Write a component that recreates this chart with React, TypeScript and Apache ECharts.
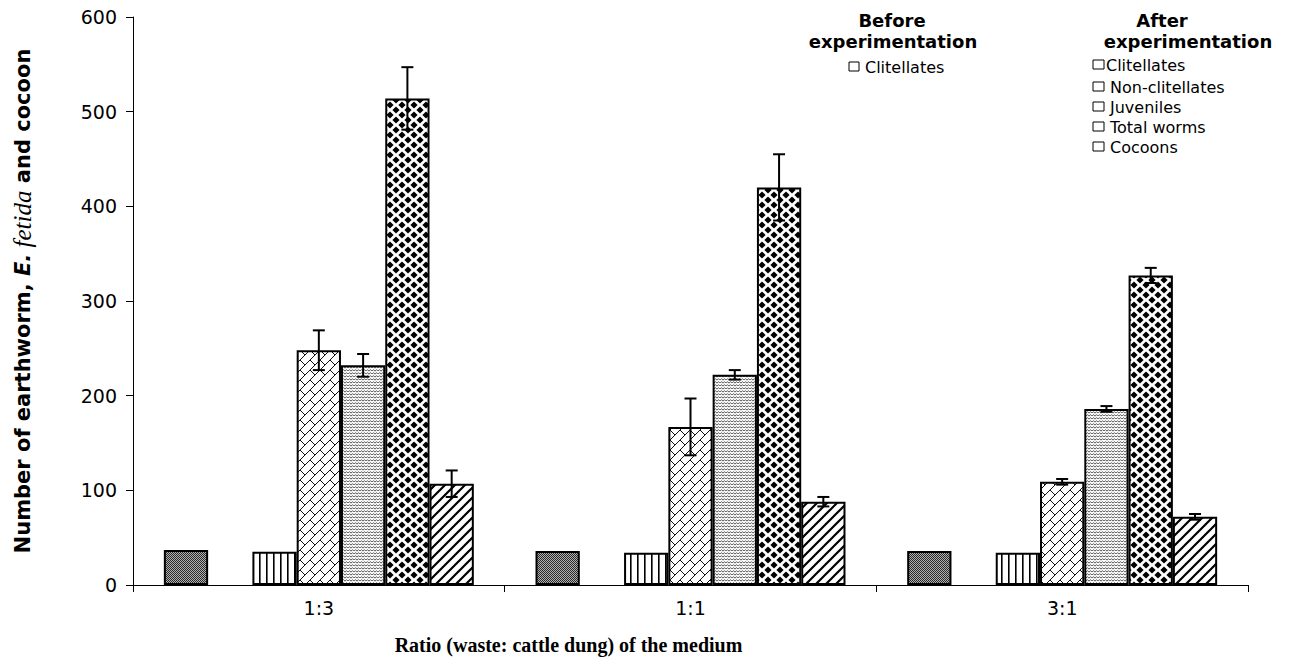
import React, { useEffect, useRef } from 'react';
import * as echarts from 'echarts';

// ---------- data ----------
const categories = ['1:3', '1:1', '3:1'];
const beforeClitellates = [37, 36, 36];
const afterClitellates = [35, 34, 34];
const nonClitellates = [248, 167, 109];
const nonClitellatesErr = [21, 30, 3];
const juveniles = [232, 222, 186];
const juvenilesErr = [12, 5, 3];
const totalWorms = [514, 420, 327];
const totalWormsErr = [33, 35, 8];
const cocoons = [107, 88, 72];
const cocoonsErr = [14, 5, 3];
const yMin = 0;
const yMax = 600;
const yStep = 100;

const afterNames = ['Clitellates', 'Non-clitellates', 'Juveniles', 'Total worms', 'Cocoons'];

const N_SLOTS = 7;
const GAP = 0.166;

type Ctx = CanvasRenderingContext2D;
function tile(w: number, h: number, draw: (c: Ctx) => void) {
  const cv = document.createElement('canvas');
  cv.width = w;
  cv.height = h;
  const ctx = cv.getContext('2d') as Ctx;
  ctx.fillStyle = '#ffffff';
  ctx.fillRect(0, 0, w, h);
  draw(ctx);
  return { image: cv, repeat: 'repeat', imageWidth: w, imageHeight: h } as any;
}

function makePatterns() {
  const gray = tile(4, 4, (c) => {
    for (let i = 0; i < 4; i++)
      for (let j = 0; j < 4; j++) {
        c.fillStyle = (i + j) % 2 === 0 ? '#2a2a2a' : '#b0b0b0';
        c.fillRect(i, j, 1, 1);
      }
  });
  const vlines = tile(7, 10, (c) => {
    c.fillStyle = '#000';
    c.fillRect(0, 0, 1.6, 10);
  });
  const brick = tile(20, 20, (c) => {
    c.strokeStyle = '#111';
    c.lineWidth = 1;
    c.beginPath();
    c.moveTo(-1, 11); c.lineTo(11, -1);
    c.moveTo(-1, 21); c.lineTo(21, -1);
    c.moveTo(9, 21); c.lineTo(21, 9);
    c.moveTo(0, 0); c.lineTo(5, 5);
    c.moveTo(10, 10); c.lineTo(15, 15);
    c.moveTo(10, 0); c.lineTo(15, 5);
    c.moveTo(0, 10); c.lineTo(5, 15);
    c.moveTo(20, 0); c.lineTo(21, 1);
    c.moveTo(20, 10); c.lineTo(21, 11);
    c.stroke();
  });
  const weave = tile(6, 6, (c) => {
    c.strokeStyle = '#555';
    c.lineWidth = 1;
    c.beginPath();
    c.moveTo(0, 2.2); c.lineTo(1.5, 0.6); c.lineTo(3, 2.2); c.lineTo(4.5, 0.6); c.lineTo(6, 2.2);
    c.moveTo(0, 5.2); c.lineTo(1.5, 3.6); c.lineTo(3, 5.2); c.lineTo(4.5, 3.6); c.lineTo(6, 5.2);
    c.stroke();
  });
  const diamonds = tile(12, 10, (c) => {
    c.fillStyle = '#000';
    const d = (x: number, y: number) => {
      c.beginPath();
      c.moveTo(x, y - 3.6); c.lineTo(x + 3.6, y); c.lineTo(x, y + 3.6); c.lineTo(x - 3.6, y);
      c.closePath();
      c.fill();
    };
    d(6, 5); d(0, 0); d(12, 0); d(0, 10); d(12, 10);
  });
  const diag = tile(10, 10, (c) => {
    c.strokeStyle = '#000';
    c.lineWidth = 2.2;
    c.beginPath();
    c.moveTo(-1, 11); c.lineTo(11, -1);
    c.moveTo(-1, 1); c.lineTo(1, -1);
    c.moveTo(9, 11); c.lineTo(11, 9);
    c.stroke();
  });
  return { gray, vlines, brick, weave, diamonds, diag };
}

export default function App() {
  const ref = useRef<HTMLDivElement>(null);
  useEffect(() => {
    document.body.style.margin = '0';
    if (!ref.current) return;
    const chart = echarts.init(ref.current, undefined, { renderer: 'svg' });
    const p = makePatterns();

    const barBase = {
      type: 'bar' as const,
      barGap: '0%',
      barCategoryGap: (GAP * 100).toFixed(1) + '%',
      emphasis: { disabled: true },
      itemStyle: { borderColor: '#000', borderWidth: 2 },
    };

    const errSets = [
      { vals: nonClitellates, errs: nonClitellatesErr, slot: 3 },
      { vals: juveniles, errs: juvenilesErr, slot: 4 },
      { vals: totalWorms, errs: totalWormsErr, slot: 5 },
      { vals: cocoons, errs: cocoonsErr, slot: 6 },
    ];
    const errData: number[][] = [];
    errSets.forEach((s) => s.vals.forEach((v, i) => errData.push([i, v, s.errs[i], s.slot])));

    const legendFont = 'bold 18px "DejaVu Sans", sans-serif';
    const itemFont = '16px "DejaVu Sans", sans-serif';
    const graphic: any[] = [
      { type: 'text', x: 892, y: 20, style: { text: 'Before', font: legendFont, fill: '#000', align: 'center', verticalAlign: 'middle' } },
      { type: 'text', x: 893, y: 41, style: { text: 'experimentation', font: legendFont, fill: '#000', align: 'center', verticalAlign: 'middle' } },
      { type: 'rect', shape: { x: 849, y: 62, width: 10, height: 9 }, style: { fill: '#fff', stroke: '#000', lineWidth: 1 } },
      { type: 'text', x: 865, y: 67, style: { text: 'Clitellates', font: itemFont, fill: '#000', align: 'left', verticalAlign: 'middle' } },
      { type: 'text', x: 1162, y: 20, style: { text: 'After', font: legendFont, fill: '#000', align: 'center', verticalAlign: 'middle' } },
      { type: 'text', x: 1188, y: 41, style: { text: 'experimentation', font: legendFont, fill: '#000', align: 'center', verticalAlign: 'middle' } },
    ];
    const rowsY = [65, 87, 107, 127, 147];
    afterNames.forEach((nm, i) => {
      graphic.push({ type: 'rect', shape: { x: 1093, y: rowsY[i] - 5, width: 11, height: 9 }, style: { fill: '#fff', stroke: '#000', lineWidth: 1 } });
      graphic.push({ type: 'text', x: 1106 + (i === 0 ? 0 : 4), y: rowsY[i], style: { text: nm, font: itemFont, fill: '#000', align: 'left', verticalAlign: 'middle' } });
    });

    const tickFont = '"DejaVu Sans", sans-serif';

    chart.setOption({
      animation: false,
      grid: { left: 133, right: 47, top: 17, bottom: 79, containLabel: false },
      xAxis: {
        type: 'category',
        data: categories,
        axisLine: { lineStyle: { color: '#000', width: 1 } },
        axisTick: { show: true, length: 7, lineStyle: { color: '#000' } },
        axisLabel: { color: '#000', fontSize: 19, fontFamily: tickFont, margin: 13 },
        name: 'Ratio (waste: cattle dung) of the medium',
        nameLocation: 'middle',
        nameGap: 50,
        nameTextStyle: {
          color: '#000',
          fontFamily: '"Liberation Serif", "Times New Roman", serif',
          fontWeight: 'bold',
          fontSize: 20,
          padding: [0, 244, 0, 0],
        },
      },
      yAxis: {
        type: 'value',
        min: yMin,
        max: yMax,
        interval: yStep,
        splitLine: { show: false },
        axisLine: { show: true, lineStyle: { color: '#000', width: 1 } },
        axisTick: { show: true, length: 7, inside: false, lineStyle: { color: '#000' } },
        axisLabel: { color: '#000', fontSize: 19, fontFamily: tickFont, margin: 16 },
        name: '{a|Number of earthworm, }{b|E.}{c| fetida}{a| and cocoon}',
        nameLocation: 'middle',
        nameRotate: 90,
        nameGap: 98,
        nameTextStyle: {
          rich: {
            a: { fontFamily: '"DejaVu Sans", sans-serif', fontWeight: 'bold', fontSize: 21, color: '#000' },
            b: { fontFamily: '"DejaVu Sans", sans-serif', fontWeight: 'bold', fontStyle: 'italic', fontSize: 21, color: '#000' },
            c: { fontFamily: '"Liberation Serif", "Times New Roman", serif', fontStyle: 'italic', fontSize: 25, color: '#000' },
          },
        },
      },
      series: [
        { ...barBase, name: 'Before: Clitellates', data: beforeClitellates, itemStyle: { ...barBase.itemStyle, color: p.gray } },
        { ...barBase, name: 'spacer', data: [null, null, null] },
        { ...barBase, name: 'After: Clitellates', data: afterClitellates, itemStyle: { ...barBase.itemStyle, color: p.vlines } },
        { ...barBase, name: 'Non-clitellates', data: nonClitellates, itemStyle: { ...barBase.itemStyle, color: p.brick } },
        { ...barBase, name: 'Juveniles', data: juveniles, itemStyle: { ...barBase.itemStyle, color: p.weave } },
        { ...barBase, name: 'Total worms', data: totalWorms, itemStyle: { ...barBase.itemStyle, color: p.diamonds } },
        { ...barBase, name: 'Cocoons', data: cocoons, itemStyle: { ...barBase.itemStyle, color: p.diag } },
        {
          type: 'custom',
          name: 'errors',
          z: 5,
          data: errData,
          encode: { x: 0, y: 1 },
          renderItem: (params: any, api: any) => {
            const cat = api.value(0);
            const val = api.value(1);
            const err = api.value(2);
            const slot = api.value(3);
            const band = api.size([1, 0])[0];
            const barW = (band * (1 - GAP)) / N_SLOTS;
            const center = api.coord([cat, 0])[0];
            const x = center - (band * (1 - GAP)) / 2 + (slot + 0.5) * barW;
            const top = api.coord([cat, val + err])[1];
            const bot = api.coord([cat, val - err])[1];
            const cap = 6;
            const st = { stroke: '#000', lineWidth: 2 };
            return {
              type: 'group',
              children: [
                { type: 'line', shape: { x1: x, y1: top, x2: x, y2: bot }, style: st },
                { type: 'line', shape: { x1: x - cap, y1: top, x2: x + cap, y2: top }, style: st },
                { type: 'line', shape: { x1: x - cap, y1: bot, x2: x + cap, y2: bot }, style: st },
              ],
            };
          },
        },
      ],
      graphic,
    } as any);
    return () => chart.dispose();
  }, []);
  return <div ref={ref} style={{ width: 1295, height: 664 }} />;
}
